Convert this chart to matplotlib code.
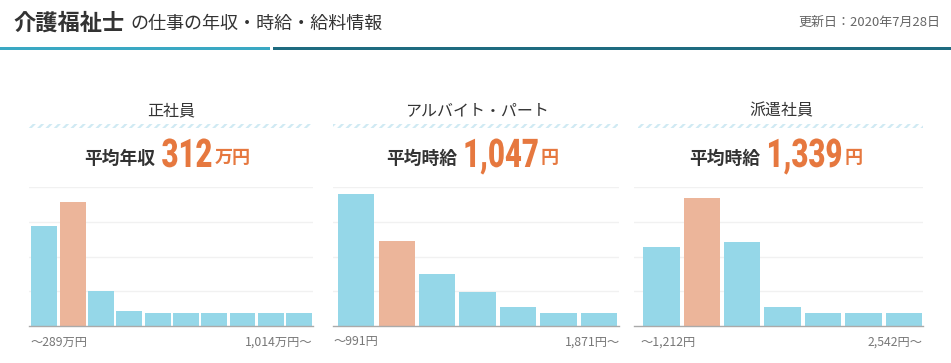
import matplotlib
matplotlib.use("Agg")
import matplotlib.pyplot as plt
from matplotlib.patches import Rectangle
from matplotlib import font_manager
from matplotlib.patheffects import AbstractPathEffect
from matplotlib.transforms import Affine2D, Bbox
from matplotlib.text import Text

plt.rcParams['font.family'] = ['Noto Sans CJK JP', 'DejaVu Sans']
plt.rcParams['hatch.linewidth'] = 1.6

# ---- data ----
title_main = "介護福祉士"
title_sub = "の仕事の年収・時給・給料情報"
updated = "更新日：2020年7月28日"

panel_titles = ["正社員", "アルバイト・パート", "派遣社員"]
stat_labels = ["平均年収", "平均時給", "平均時給"]
stat_values = ["312", "1,047", "1,339"]
stat_units = ["万円", "円", "円"]
left_labels = ["〜289万円", "〜991円", "〜1,212円"]
right_labels = ["1,014万円〜", "1,871円〜", "2,542円〜"]

values_seishain = [28.9, 35.7, 10.0, 4.3, 3.7, 3.7, 3.7, 3.7, 3.7, 3.7]
values_arubaito = [38.0, 24.6, 15.1, 9.7, 5.4, 3.7, 3.7]
values_haken = [22.6, 36.9, 24.3, 5.4, 3.7, 3.7, 3.7]
highlight_index = [1, 1, 1]
series = [values_seishain, values_arubaito, values_haken]


class Condense(AbstractPathEffect):
    """Draw text horizontally condensed around its left origin."""

    def __init__(self, sx):
        super().__init__()
        self.sx = sx

    def draw_path(self, renderer, gc, tpath, affine, rgbFace=None):
        renderer.draw_path(gc, tpath, Affine2D().scale(self.sx, 1) + affine, rgbFace)


class CondensedText(Text):
    """A real Text artist drawn condensed; its extent reports the condensed box."""

    def __init__(self, *args, sx=1.0, **kwargs):
        super().__init__(*args, **kwargs)
        self._sx = sx
        self.set_path_effects([Condense(sx)])

    def get_window_extent(self, renderer=None, dpi=None):
        bb = super().get_window_extent(renderer, dpi)
        return Bbox.from_extents(bb.x0, bb.y0, bb.x0 + bb.width * self._sx, bb.y1)


NUM_SX = 0.74
num_font = font_manager.FontProperties(family="Roboto", weight=900, size=28.5)

# ---- style ----
W, H = 951, 363
BLUE = "#95d7e8"
ORANGE_BAR = "#ecb59a"
ORANGE = "#e6783f"
DARK = "#333333"
GREY = "#777777"

fig = plt.figure(figsize=(W / 100, H / 100), dpi=100)
fig.patch.set_facecolor("white")


def fx(px):
    return px / W


def fy(py):
    return 1 - py / H


# header
fig.text(fx(13), fy(23), title_main, fontsize=16, fontweight="bold", color=DARK, va="center", ha="left")
fig.text(fx(130), fy(24), title_sub, fontsize=13, color=DARK, va="center", ha="left")
fig.text(fx(940), fy(22), updated, fontsize=9.4, color="#666666", va="center", ha="right")
fig.patches.append(Rectangle((0, fy(50)), fx(270), fy(47) - fy(50), transform=fig.transFigure,
                             facecolor="#3aa8c3", edgecolor="none"))
fig.patches.append(Rectangle((fx(273), fy(50)), 1 - fx(273), fy(47) - fy(50), transform=fig.transFigure,
                             facecolor="#1e6b80", edgecolor="none"))

# panel layout (pixels)
axes_px = [(29, 313), (333, 619), (634, 923)]
xlims = [(-0.54, 9.49), (-0.576, 6.50), (-0.676, 6.475)]
title_cx = [171, 477, 781]
strip_px = [(28, 312), (333, 618), (638, 923)]
group_cx = [167.5, 472.5, 776]
left_lab_x = [30, 333, 640]
right_lab_x = [313, 620, 923]

renderer = fig.canvas.get_renderer()

top_px, base_px = 187, 326
for k in range(3):
    x0, x1 = axes_px[k]
    ax = fig.add_axes([fx(x0), fy(base_px), fx(x1 - x0), (base_px - top_px) / H])
    vals = series[k]
    xs = list(range(len(vals)))
    colors = [ORANGE_BAR if i == highlight_index[k] else BLUE for i in xs]
    width = 0.915 if len(vals) == 10 else 0.9
    for g in [10, 20, 30, 40]:
        ax.axhline(g, color="#f1f1f1", lw=1, zorder=0)
    ax.bar(xs, vals, width=width, color=colors, zorder=2)
    ax.set_xlim(*xlims[k])
    ax.set_ylim(0, 40)
    for s in ["top", "right", "left"]:
        ax.spines[s].set_visible(False)
    ax.spines["bottom"].set_color("#aaaaaa")
    ax.spines["bottom"].set_linewidth(1)
    ax.spines["bottom"].set_zorder(3)
    ax.set_xticks([])
    ax.set_yticks([])
    ax.patch.set_alpha(0)

    # labels under axis
    fig.text(fx(left_lab_x[k]), fy(342), left_labels[k], fontsize=8.8, color=GREY, va="center", ha="left")
    fig.text(fx(right_lab_x[k]), fy(342), right_labels[k], fontsize=8.8, color=GREY, va="center", ha="right")

    # panel title
    fig.text(fx(title_cx[k]), fy(111), panel_titles[k], fontsize=11.5, color=DARK, va="center", ha="center")
    sx0, sx1 = strip_px[k]
    fig.patches.append(Rectangle((fx(sx0), fy(128)), fx(sx1 - sx0), fy(124) - fy(128),
                                 transform=fig.transFigure, facecolor="none",
                                 edgecolor="#d0eaf3", hatch="////", lw=0))

    # stat line: label, big number, unit — laid out from measured widths
    t1 = fig.text(0, fy(159), stat_labels[k], fontsize=12.8, fontweight="bold", color=DARK,
                  va="center", ha="left")
    t2 = CondensedText(0, fy(167), stat_values[k], fontproperties=num_font, color=ORANGE,
                       va="baseline", ha="left", transform=fig.transFigure, sx=NUM_SX)
    fig.add_artist(t2)
    t3 = fig.text(0, fy(158), stat_units[k], fontsize=13, fontweight="bold", color=ORANGE,
                  va="center", ha="left")
    w1 = t1.get_window_extent(renderer).width
    w2 = t2.get_window_extent(renderer).width
    w3 = t3.get_window_extent(renderer).width
    gap1, gap2 = 6, 2
    total = w1 + gap1 + w2 + gap2 + w3
    start = group_cx[k] - total / 2
    t1.set_x(fx(start))
    t2.set_x(fx(start + w1 + gap1))
    t3.set_x(fx(start + w1 + gap1 + w2 + gap2))

fig.savefig("out.png", dpi=100, facecolor="white")
